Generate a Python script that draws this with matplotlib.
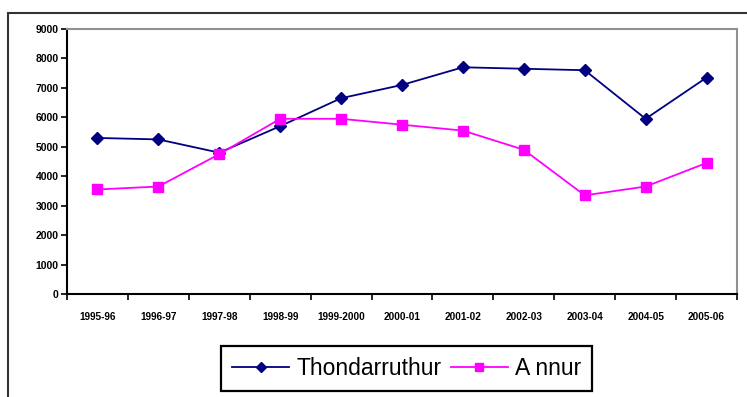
import matplotlib
matplotlib.use("Agg")
import matplotlib.pyplot as plt
from matplotlib.patches import Rectangle

years = ["1995-96", "1996-97", "1997-98", "1998-99", "1999-2000", "2000-01",
         "2001-02", "2002-03", "2003-04", "2004-05", "2005-06"]
thondarruthur = [5300, 5250, 4800, 5700, 6650, 7100, 7700, 7650, 7600, 5950, 7350]
annur = [3550, 3650, 4750, 5950, 5950, 5750, 5550, 4900, 3350, 3650, 4450]
y_ticks = [0, 1000, 2000, 3000, 4000, 5000, 6000, 7000, 8000, 9000]

plt.rcParams["font.family"] = ["Liberation Sans", "DejaVu Sans"]

W, H = 747, 397
fig = plt.figure(figsize=(W / 100, H / 100), dpi=100)

# outer chart frame (runs off the right and bottom edges)
fig.patches.append(Rectangle((8 / W, -0.05), 1.1, 1 - 13 / H + 0.05,
                             transform=fig.transFigure, fill=False,
                             edgecolor="#333333", linewidth=1.5))

ax = fig.add_axes([67 / W, 1 - 294 / H, (737 - 67) / W, (294 - 29) / H])

x = [i + 0.5 for i in range(len(years))]
l1, = ax.plot(x, thondarruthur, color="#000080", marker="D", markersize=6.5,
              linewidth=1.3, label="Thondarruthur")
l2, = ax.plot(x, annur, color="#FF00FF", marker="s", markersize=7.5,
              linewidth=1.3, label="A nnur")

ax.set_xlim(0, len(years))
ax.set_ylim(0, 9000)
ax.set_yticks(y_ticks)
ax.set_yticklabels([str(v) for v in y_ticks], fontsize=7.5, fontweight="bold")
ax.set_xticks(range(len(years) + 1))
ax.set_xticklabels([])
ax.set_xticks(x, minor=True)
ax.set_xticklabels(years, minor=True, fontsize=7.2, fontweight="bold")
ax.tick_params(axis="x", which="minor", length=0, pad=13)
ax.tick_params(axis="x", which="major", length=4, width=1.2, direction="out")
ax.tick_params(axis="y", length=4, width=1.2, direction="out", pad=2)

for s in ("left", "bottom"):
    ax.spines[s].set_color("black")
    ax.spines[s].set_linewidth(1.5)
for s in ("top", "right"):
    ax.spines[s].set_color("#909090")
    ax.spines[s].set_linewidth(1.5)

leg = fig.legend(handles=[l1, l2], loc="center",
                 bbox_to_anchor=(406.5 / W, 1 - 368.5 / H), ncol=2,
                 fontsize=16.5, fancybox=False, edgecolor="black",
                 framealpha=1, handlelength=2.5, columnspacing=0.4,
                 handletextpad=0.3, borderpad=0.5, markerscale=0.75)
leg.get_frame().set_linewidth(1.6)

fig.savefig("out.png", dpi=100)
